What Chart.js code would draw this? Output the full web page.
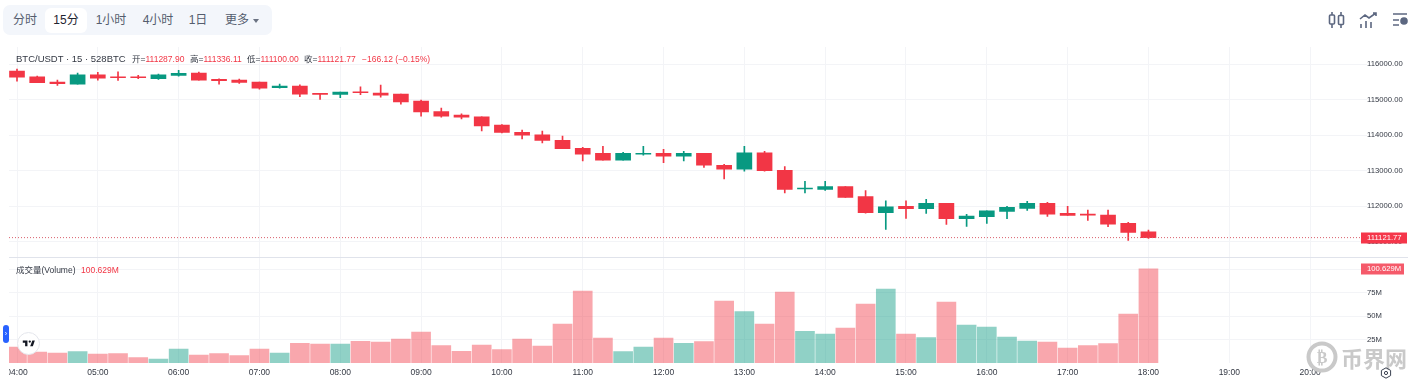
<!DOCTYPE html>
<html lang="zh">
<head>
<meta charset="utf-8">
<title>BTC/USDT 15</title>
<script src="https://cdn.jsdelivr.net/npm/chart.js@4"></script>
<style>
  html, body { margin: 0; padding: 0; background: #fff; overflow: hidden; }
  body { width: 1419px; height: 385px; position: relative; font-family: "Liberation Sans", "Noto Sans CJK SC", sans-serif; }
  #chartBox { position: absolute; left: 9px; top: 47px; width: 1399px; height: 338px; }
  .toolbar { position: absolute; left: 3px; top: 5px; width: 269px; height: 30px; background: #f3f6fb; border-radius: 7px; }
  .btn { position: absolute; top: 3px; height: 25px; line-height: 25px; text-align: center; font-size: 12px; color: #545d6e; border-radius: 6px; }
  .btn.on { background: #fff; color: #1f2430; }
  .arrow { position: absolute; left: 250px; top: 14px; width: 0; height: 0; border-left: 3.5px solid transparent; border-right: 3.5px solid transparent; border-top: 4px solid #6a7282; }
  .legend { position: absolute; white-space: nowrap; font-size: 8.5px; line-height: 12px; color: #f23645; }
  .dark { color: #333843; }
  .sep { position: absolute; left: 9px; top: 257px; width: 1399px; height: 1px; background: #e0e3eb; }
  .handle { position: absolute; left: 3px; top: 325px; width: 6px; height: 18px; background: #2962ff; border-radius: 3px; color: #fff; font-size: 7px; line-height: 18px; text-align: center; }
  .logo { position: absolute; left: 17px; top: 332px; width: 21px; height: 21px; background: #fff; border: 1px solid #e4e6ec; border-radius: 50%; }
  .mark { position: absolute; left: 1341px; top: 344px; font-size: 22px; line-height: 26px; font-weight: 700; color: #c9c9c9; white-space: nowrap; font-family: "Noto Sans CJK SC", sans-serif; }
  svg { position: absolute; overflow: visible; }
</style>
</head>
<body>
<div class="toolbar">
  <div class="btn" style="left:5px;width:34px">分时</div>
  <div class="btn on" style="left:42px;width:42px">15分</div>
  <div class="btn" style="left:87px;width:42px">1小时</div>
  <div class="btn" style="left:134px;width:42px">4小时</div>
  <div class="btn" style="left:180px;width:30px">1日</div>
  <div class="btn" style="left:217px;width:34px">更多</div>
  <div class="arrow"></div>
</div>

<svg style="left:1327px;top:11px" width="82" height="18" fill="none" stroke="#5c6780" stroke-width="1.6">
  <path d="M5 1v3M5 13v4M14 1v3M14 13v4"/><rect x="2.5" y="4" width="5" height="9" rx="1"/><rect x="11.5" y="4.5" width="5" height="9" rx="1"/>
  <path d="M33 8l5-4 4 3 7-5M46 2h3v3M34 13v4M39 10v7M44 11v6"/>
  <path d="M66 3h14M66 9h6M66 14h6"/><circle cx="77" cy="10" r="3" fill="#5c6780"/>
</svg>

<div id="chartBox"><canvas id="grafico" width="1399" height="338"></canvas></div>
<div class="sep"></div>

<div class="legend" style="left:16px;top:53px;font-size:9.5px"><span class="dark">BTC/USDT · 15 · 528BTC</span></div>
<div class="legend" style="left:132px;top:53px"><span class="dark">开=</span>111287.90</div>
<div class="legend" style="left:190px;top:53px"><span class="dark">高=</span>111336.11</div>
<div class="legend" style="left:247px;top:53px"><span class="dark">低=</span>111100.00</div>
<div class="legend" style="left:304px;top:53px"><span class="dark">收=</span>111121.77</div>
<div class="legend" style="left:362px;top:53px">−166.12 (−0.15%)</div>
<div class="legend" style="left:16px;top:264px"><span class="dark">成交量(Volume)</span></div>
<div class="legend" style="left:81px;top:264px">100.629M</div>

<div class="handle">›</div>
<div class="logo"><svg style="left:4px;top:5px" width="14" height="11" viewBox="0 0 36 28" fill="#131722"><path d="M14 6H2v6h6v9h6V6zm14 15h-7l5.6-15H33l-5 15z"/><circle cx="20" cy="9" r="3"/></svg></div>

<svg style="left:1306px;top:341px" width="34" height="32" fill="none" stroke="#c9c9c9">
  <circle cx="16" cy="16" r="13.5" stroke-width="4"/>
  <text x="16" y="22" text-anchor="middle" font-size="16" font-weight="700" fill="#c9c9c9" stroke="none" font-family="DejaVu Sans">₿</text>
</svg>
<div class="mark">币界网</div>
<svg style="left:1380px;top:367px" width="12" height="12" fill="none" stroke="#3a4150" stroke-width="1"><path d="M6 .8l4.6 2.6v5.2L6 11.2 1.4 8.6V3.4z"/><circle cx="6" cy="6" r="1.6"/></svg>

<script>
// 15 minute bars
const categories = ['04:00','04:15','04:30','04:45','05:00','05:15','05:30','05:45','06:00','06:15','06:30','06:45',
  '07:00','07:15','07:30','07:45','08:00','08:15','08:30','08:45','09:00','09:15','09:30','09:45',
  '10:00','10:15','10:30','10:45','11:00','11:15','11:30','11:45','12:00','12:15','12:30','12:45',
  '13:00','13:15','13:30','13:45','14:00','14:15','14:30','14:45','15:00','15:15','15:30','15:45',
  '16:00','16:15','16:30','16:45','17:00','17:15','17:30','17:45','18:00'];

const opens = [115803,115643,115493,115437,115700,115634,115634,115587,115681,115746,115568,115549,
  115493,115333,115380,115174,115146,115211,115183,115155,114958,114667,114563,114516,
  114282,114084,114009,113859,113634,113493,113296,113465,113493,113408,113493,113155,
  113042,113502,113014,112489,112479,112554,112272,111821,112000,111934,112084,111652,
  111709,111859,111944,112084,111803,111775,111756,111521,111287.90];
const closes = [115634,115474,115446,115700,115606,115615,115615,115700,115737,115549,115531,115484,
  115324,115380,115155,115146,115211,115192,115127,114939,114657,114535,114507,114263,
  114075,114000,113850,113624,113465,113296,113493,113483,113408,113493,113155,113042,
  113502,113005,112479,112507,112554,112253,111821,111990,111934,112084,111652,111728,
  111878,111972,112084,111784,111746,111756,111502,111267,111121.77];
const highs = [115859,115662,115549,115746,115765,115784,115681,115718,115822,115775,115587,115577,
  115493,115437,115418,115174,115211,115361,115408,115155,114986,114760,114601,114516,
  114300,114141,114113,113972,113662,113690,113521,113690,113606,113549,113493,113183,
  113690,113549,113117,112704,112704,112554,112441,112159,112159,112197,112084,111775,
  111878,112000,112141,112113,112000,111897,111897,111549,111336.11];
const lows = [115521,115474,115399,115437,115549,115540,115587,115568,115662,115549,115437,115455,
  115296,115324,115080,115005,115052,115136,115070,114873,114535,114507,114460,114122,
  114066,113897,113784,113624,113277,113296,113296,113437,113230,113277,113098,112770,
  112986,112986,112375,112375,112451,112253,111812,111352,111662,111803,111493,111436,
  111521,111652,111887,111718,111746,111605,111427,111042,111100];
const volumes = [17.1,11.7,10.7,12.1,9.6,10,5.7,4.3,14.9,8.5,10,7.8,
  14.9,10.7,21,20.3,20.3,23.1,22.4,25.6,33.1,18.5,12.4,19.2,
  14.2,25.6,18.1,41.6,76.8,26.7,12.1,17.1,26.7,21,22.8,66.2,
  54.8,41.6,75.8,33.8,30.9,37.3,63,79,30.9,27,65.1,40.5,
  38.4,27.7,23.5,22.4,16,18.5,20.6,52.3,100.629];

const priceTicks = [111000,112000,113000,114000,115000,116000];
const volumeTicks = [25,50,75,100];
const hourTicks = ['04:00','05:00','06:00','07:00','08:00','09:00','10:00','11:00','12:00',
  '13:00','14:00','15:00','16:00','17:00','18:00','19:00','20:00'];

const lastClose = 111121.77;
const lastVolume = 100.629;

const CIMA = '#089981';
const BAIXO = '#f23645';
const GRADE = '#f3f4f7';
const TEXTO = '#333843';
const FONTE = '"Liberation Sans", "Noto Sans CJK SC", sans-serif';

const xMin = 234.06;
const xMax = 1237.8;

function minutos(hhmm) {
    const p = hhmm.split(':');
    return Number(p[0]) * 60 + Number(p[1]);
}

const xs = categories.map(minutos);
const subiu = opens.map((o, i) => closes[i] >= o);
const corCandle = subiu.map(s => s ? CIMA : BAIXO);
const corVolume = subiu.map(s => s ? 'rgba(8,153,129,0.45)' : 'rgba(242,54,69,0.44)');

// right hand price tags, drawn on top of the axis labels
const etiquetas = {
    id: 'etiquetas',
    afterDraw(chart) {
        const c = chart.ctx;
        const esq = chart.chartArea.right;
        const tags = [
            { y: chart.scales.y.getPixelForValue(lastClose), w: 46, cor: '#f5364a', txt: lastClose.toFixed(2) },
            { y: chart.scales.yVol.getPixelForValue(lastVolume * 1e6), w: 43, cor: '#f55a6a', txt: lastVolume.toFixed(3) + 'M' }
        ];
        c.save();
        tags.forEach(t => {
            c.fillStyle = t.cor;
            c.fillRect(esq, Math.round(t.y) - 5.5, t.w, 11);
            c.fillStyle = '#fff';
            c.font = '7.7px ' + FONTE;
            c.textBaseline = 'middle';
            c.fillText(t.txt, esq + 6, Math.round(t.y));
        });
        c.restore();
    }
};

function semMargem(scale) {
    scale.paddingLeft = 0;
    scale.paddingRight = 0;
    scale.paddingTop = 0;
    scale.paddingBottom = 0;
}

function eixoDireita(scale) {
    scale.width = 47;
    semMargem(scale);
}

new Chart(document.getElementById('grafico').getContext('2d'), {
    type: 'bar',
    data: {
        datasets: [
            {
                type: 'line',
                label: 'last',
                yAxisID: 'y',
                data: [{ x: xMin, y: lastClose }, { x: xMax, y: lastClose }],
                borderColor: '#d9606c',
                borderWidth: 1,
                borderDash: [1, 2],
                pointRadius: 0,
                order: 0
            },
            {
                label: 'body',
                yAxisID: 'y',
                data: xs.map((x, i) => ({ x: x, y: [opens[i], closes[i]] })),
                backgroundColor: corCandle,
                barThickness: 15,
                minBarLength: 1,
                grouped: false,
                order: 1
            },
            {
                label: 'wick',
                yAxisID: 'y',
                data: xs.map((x, i) => ({ x: x, y: [lows[i], highs[i]] })),
                backgroundColor: corCandle,
                barThickness: 1,
                grouped: false,
                order: 2
            },
            {
                label: 'volume',
                yAxisID: 'yVol',
                data: xs.map((x, i) => ({ x: x, y: volumes[i] * 1e6 })),
                backgroundColor: corVolume,
                barThickness: 19,
                grouped: false,
                order: 3
            }
        ]
    },
    options: {
        responsive: false,
        animation: false,
        events: [],
        layout: { padding: 0 },
        plugins: {
            legend: { display: false },
            tooltip: { enabled: false }
        },
        scales: {
            x: {
                type: 'linear',
                offset: false,
                min: xMin,
                max: xMax,
                afterBuildTicks(scale) {
                    scale.ticks = hourTicks.map(h => ({ value: minutos(h) }));
                },
                afterFit(scale) {
                    scale.height = 22;
                    semMargem(scale);
                },
                border: { display: false },
                grid: { color: GRADE, drawTicks: false, offset: false },
                ticks: {
                    autoSkip: false,
                    maxRotation: 0,
                    padding: 5,
                    color: TEXTO,
                    font: { size: 8.5, family: FONTE },
                    callback: v => String(Math.floor(v / 60)).padStart(2, '0') + ':00'
                }
            },
            y: {
                position: 'right',
                stack: 'paineis',
                stackWeight: 210.5,
                min: 110563,
                max: 116479,
                afterBuildTicks(scale) {
                    scale.ticks = priceTicks.map(v => ({ value: v }));
                },
                afterFit: eixoDireita,
                border: { display: false },
                grid: { color: GRADE, tickLength: 6 },
                ticks: {
                    padding: 0,
                    color: TEXTO,
                    font: { size: 7.7, family: FONTE },
                    callback: v => v.toFixed(2)
                }
            },
            yVol: {
                position: 'right',
                stack: 'paineis',
                stackWeight: 105.5,
                min: 0,
                max: 112600000,
                afterBuildTicks(scale) {
                    scale.ticks = volumeTicks.map(v => ({ value: v * 1e6 }));
                },
                afterFit: eixoDireita,
                border: { display: false },
                grid: { color: GRADE, tickLength: 6 },
                ticks: {
                    padding: 0,
                    color: TEXTO,
                    font: { size: 7.7, family: FONTE },
                    callback: v => (v / 1e6) + 'M'
                }
            }
        }
    },
    plugins: [etiquetas]
});
</script>
</body>
</html>
